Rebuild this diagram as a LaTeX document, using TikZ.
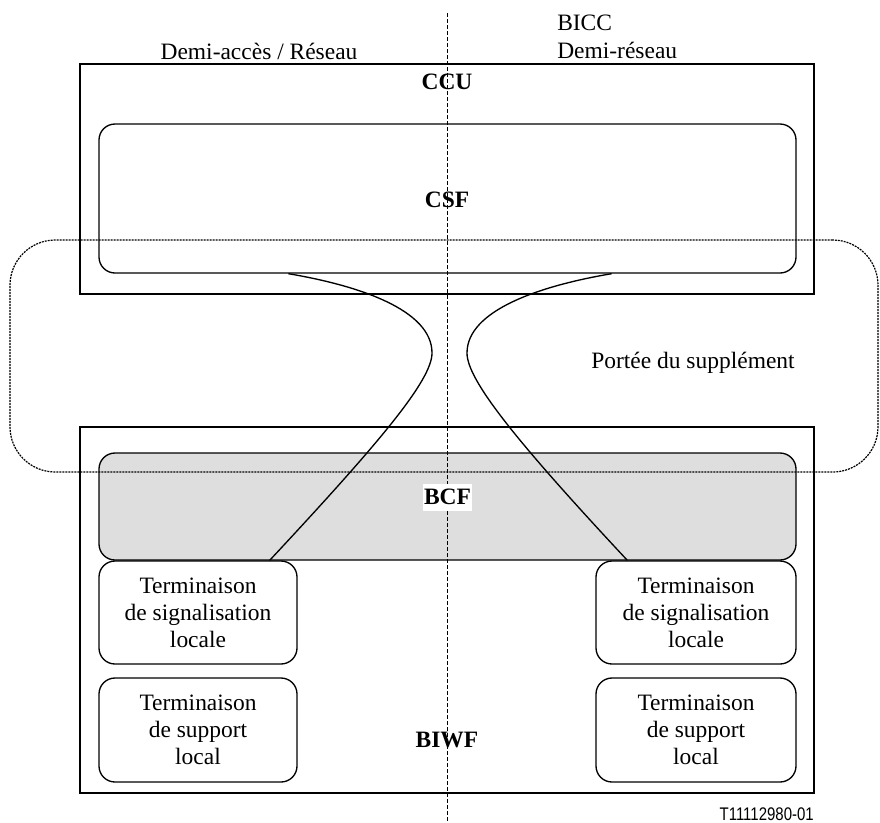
\documentclass[tikz,border=0pt]{standalone}
\usepackage{fontspec}
\setmainfont{Liberation Serif}
\newfontfamily\codefont[FakeStretch=0.82]{Liberation Sans}
\usetikzlibrary{calc}
\definecolor{bcfgrey}{RGB}{222,222,222}
% lengths given in drawing units (1 unit = 0.75pt)
\newcommand\upx[1]{#1*0.75pt}
\begin{document}
\begin{tikzpicture}[x=0.75pt,y=-0.75pt,
  every node/.style={font=\fontsize{17.6}{20.3}\selectfont, inner sep=0pt, align=center},
  frame/.style={draw, line width=1pt},
  func/.style={draw, line width=1pt, rounded corners=12pt},
  term/.style={func, minimum height=\upx{103}},
  divider/.style={line width=0.75pt, dash pattern=on 3pt off 1.5pt},
  scopebox/.style={draw, line width=0.9pt, dash pattern=on 1.5pt off 0.75pt, rounded corners=34pt},
  link/.style={line width=1pt},
  head/.style={font=\fontsize{17.6}{20.3}\selectfont\bfseries}
]
\useasboundingbox (0,0) rectangle (880,822);

% grey bearing control function (filled first, so lines show over it)
\node[func, fill=bcfgrey, minimum width=\upx{697}, minimum height=\upx{107}] (bcf) at (447.5,506.5) {};

% half-call divider
\coordinate (vtop) at (447,13);
\coordinate (vbot) at (447,822);
\draw[divider] (vtop) -- (vbot);

% column headings
\node[anchor=base] (left) at (259,59) {Demi-accès / Réseau};
\node[anchor=base west] (bicc) at (557,30) {BICC};
\node[anchor=base west] (right) at (557,58) {Demi-réseau};

% call control unit
\node[frame, minimum width=\upx{734}, minimum height=\upx{230}] (ccu) at (447,179) {};
\node[head, anchor=base] (ccutxt) at (447,89) {CCU};
\node[func, minimum width=\upx{697}, minimum height=\upx{149}] (csf) at (447.5,198.5) {};
\node[head, anchor=base] (csftxt) at (447,207) {CSF};

% bearer interworking function
\node[frame, minimum width=\upx{734}, minimum height=\upx{366}] (biwf) at (447,610) {};
\node[head, fill=white, inner xsep=0.75pt, minimum height=\upx{27}] (bcftxt) at (447.5,497) {BCF};
\node[head, anchor=base] (biwftxt) at (447,747) {BIWF};

\node[term, minimum width=\upx{198}] (sigL) at (198,612.5) {Terminaison\\de signalisation\\locale};
\node[term, minimum width=\upx{198}, minimum height=\upx{104}] (supL) at (198,730) {Terminaison\\de support\\local};
\node[term, minimum width=\upx{200}] (sigR) at (696,612.5) {Terminaison\\de signalisation\\locale};
\node[term, minimum width=\upx{200}, minimum height=\upx{104}] (supR) at (696,730) {Terminaison\\de support\\local};

% scope of the supplement
\node[scopebox, minimum width=\upx{868}, minimum height=\upx{232}] (scope) at (444,356) {};
\node[anchor=base] (scopetxt) at (693,368) {Portée du supplément};

% signalling links between CSF and the local terminations
\coordinate (apexL) at (432,353);
\coordinate (apexR) at (467,353);
\draw[link] ($(csf.south west)+(190,0)$) .. controls +(71,12) and +(0,-43) .. (apexL)
  .. controls +(0,27) and +(111,-119) .. ($(sigL.north east)+(-28,0)$);
\draw[link] ($(csf.south east)+(-185,0)$) .. controls +(-71,12) and +(0,-43) .. (apexR)
  .. controls +(0,27) and +(-111,-119) .. ($(sigR.north west)+(32,0)$);

% figure reference
\node[anchor=base east, font=\codefont\fontsize{13.7}{16}\selectfont] (ref) at (814,820) {T11112980-01};
\end{tikzpicture}
\end{document}
